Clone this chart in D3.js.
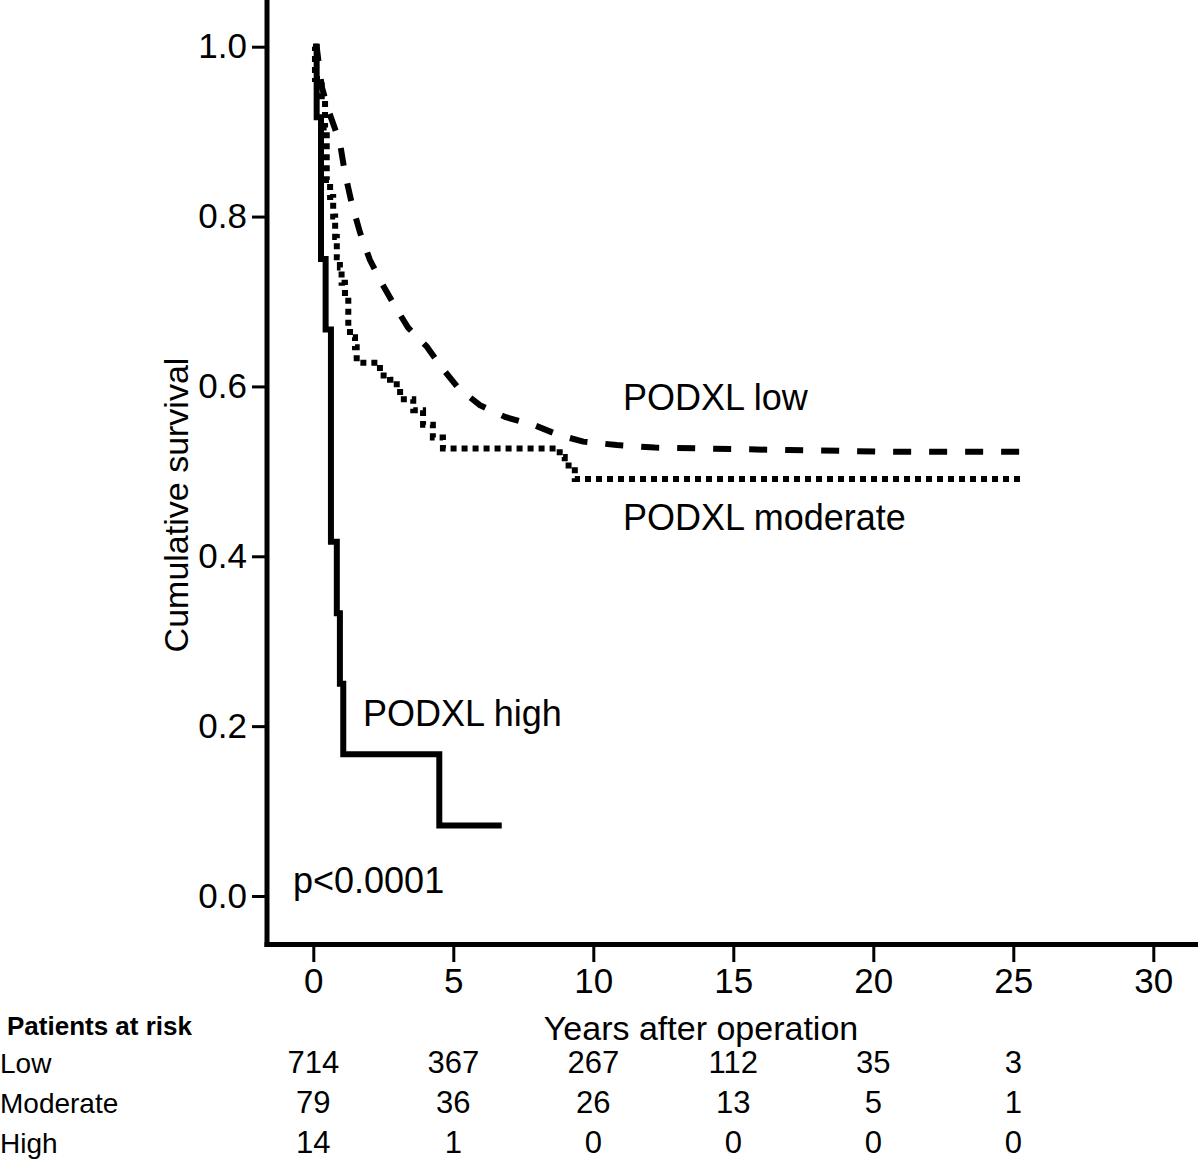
<!DOCTYPE html>
<html>
<head>
<meta charset="utf-8">
<script src="https://cdn.jsdelivr.net/npm/d3@7"></script>
<style>
  html, body { margin: 0; padding: 0; background: #fff; }
  svg { display: block; font-family: "Liberation Sans", Arial, Helvetica, sans-serif; }
</style>
</head>
<body>
<div id="chart"></div>
<script>
// ---- data ----
const xTicks = [0, 5, 10, 15, 20, 25, 30];
const yTicks = [0, 0.2, 0.4, 0.6, 0.8, 1.0];

// PODXL low (dense KM curve, n=714)
const lowTime = [0, 0.12, 0.30, 0.54, 0.95, 1.13, 1.37, 1.67, 2.02, 2.44, 2.92, 3.39, 4.05, 4.59, 5.18, 5.95, 6.85, 7.92, 8.75, 9.64, 10.84, 12.2, 13.8, 17.0, 21.0, 25.5];
const lowSurv = [1.0, 1.0, 0.953, 0.925, 0.887, 0.851, 0.816, 0.781, 0.749, 0.722, 0.694, 0.669, 0.647, 0.622, 0.598, 0.578, 0.564, 0.554, 0.543, 0.535, 0.531, 0.528, 0.527, 0.525, 0.523, 0.523];

// PODXL moderate (n=79)
const modTime = [0, 0.06, 0.30, 0.42, 0.48, 0.60, 0.71, 0.78, 0.84, 0.95, 1.01, 1.13, 1.25, 1.31, 1.49, 1.55, 2.38, 2.74, 2.98, 3.10, 3.57, 3.92, 4.27, 4.63, 8.80, 8.98, 9.34, 25.24];
const modSurv = [1.0, 0.962, 0.937, 0.905, 0.843, 0.823, 0.800, 0.776, 0.752, 0.740, 0.722, 0.710, 0.670, 0.658, 0.646, 0.628, 0.613, 0.608, 0.598, 0.585, 0.572, 0.555, 0.540, 0.527, 0.517, 0.507, 0.491, 0.491];

// PODXL high (n=14)
const highTime = [0, 0.12, 0.275, 0.44, 0.63, 0.84, 0.95, 1.07, 4.5, 6.73];
const highSurv = [1.0, 0.917, 0.75, 0.667, 0.417, 0.333, 0.25, 0.167, 0.083, 0.083];

// Patients at risk
const riskTimes = [0, 5, 10, 15, 20, 25];
const riskGroups = ["Low", "Moderate", "High"];
const riskLow = [714, 367, 267, 112, 35, 3];
const riskModerate = [79, 36, 26, 13, 5, 1];
const riskHigh = [14, 1, 0, 0, 0, 0];

// ---- drawing ----
const W = 1200, H = 1160;
const svg = d3.select("#chart").append("svg").attr("width", W).attr("height", H);

const x = d3.scaleLinear().domain([0, 30]).range([313.3, 1153.3]);
const y = d3.scaleLinear().domain([0, 1]).range([896, 46.7]);

// Axis lines
svg.append("line").attr("x1", 267).attr("x2", 267).attr("y1", 0).attr("y2", 947)
  .attr("stroke", "#000").attr("stroke-width", 5);
svg.append("line").attr("x1", 264.5).attr("x2", 1198).attr("y1", 944.5).attr("y2", 944.5)
  .attr("stroke", "#000").attr("stroke-width", 5);

// Y axis ticks
const yAxis = svg.append("g").attr("transform", "translate(267,0)")
  .call(d3.axisLeft(y).tickValues(yTicks).tickFormat(d3.format(".1f")).tickSize(15).tickPadding(5));
yAxis.select(".domain").remove();
yAxis.selectAll(".tick line").attr("stroke", "#000").attr("stroke-width", 3);
yAxis.selectAll(".tick text").attr("font-size", 35).attr("fill", "#000")
  .attr("font-family", "Liberation Sans, Arial, sans-serif");

// X axis ticks
const xAxis = svg.append("g").attr("transform", "translate(0,947)")
  .call(d3.axisBottom(x).tickValues(xTicks).tickFormat(d3.format("d")).tickSize(15).tickPadding(6));
xAxis.select(".domain").remove();
xAxis.selectAll(".tick line").attr("stroke", "#000").attr("stroke-width", 3);
xAxis.selectAll(".tick text").attr("font-size", 35).attr("fill", "#000")
  .attr("font-family", "Liberation Sans, Arial, sans-serif");

// Y axis title
svg.append("text")
  .attr("transform", "translate(188,505) rotate(-90)")
  .attr("text-anchor", "middle")
  .attr("font-size", 34)
  .text("Cumulative survival");

// X axis title
svg.append("text").attr("x", 701).attr("y", 1040).attr("text-anchor", "middle")
  .attr("font-size", 34).text("Years after operation");

// Curves
const zip = (t, s) => t.map((d, i) => [d, s[i]]);
const stepLine = d3.line().x(d => x(d[0])).y(d => y(d[1])).curve(d3.curveStepAfter);
const smoothLine = d3.line().x(d => x(d[0])).y(d => y(d[1])).curve(d3.curveLinear);

svg.append("path").attr("d", smoothLine(zip(lowTime, lowSurv)))
  .attr("fill", "none").attr("stroke", "#000").attr("stroke-width", 6)
  .attr("stroke-dasharray", "18,18");

svg.append("path").attr("d", stepLine(zip(modTime, modSurv)))
  .attr("fill", "none").attr("stroke", "#000").attr("stroke-width", 6)
  .attr("stroke-dasharray", "6,5");

svg.append("path").attr("d", stepLine(zip(highTime, highSurv)))
  .attr("fill", "none").attr("stroke", "#000").attr("stroke-width", 6);

// Curve labels
svg.append("text").attr("x", 623).attr("y", 410).attr("font-size", 36).text("PODXL low");
svg.append("text").attr("x", 623).attr("y", 530).attr("font-size", 36).text("PODXL moderate");
svg.append("text").attr("x", 363).attr("y", 726).attr("font-size", 36).text("PODXL high");
svg.append("text").attr("x", 293).attr("y", 893).attr("font-size", 36).text("p<0.0001");

// Patients at risk table
svg.append("text").attr("x", 7).attr("y", 1035).attr("font-size", 26).attr("font-weight", "bold")
  .text("Patients at risk");

const riskRows = [riskLow, riskModerate, riskHigh];
const rowBase = [1073, 1113, 1153];
riskGroups.forEach((g, i) => {
  svg.append("text").attr("x", 0).attr("y", rowBase[i]).attr("font-size", 28).text(g);
  svg.selectAll(null).data(riskRows[i]).enter().append("text")
    .attr("x", (d, j) => x(riskTimes[j]))
    .attr("y", rowBase[i])
    .attr("text-anchor", "middle")
    .attr("font-size", 31)
    .text(d => d);
});
</script>
</body>
</html>
